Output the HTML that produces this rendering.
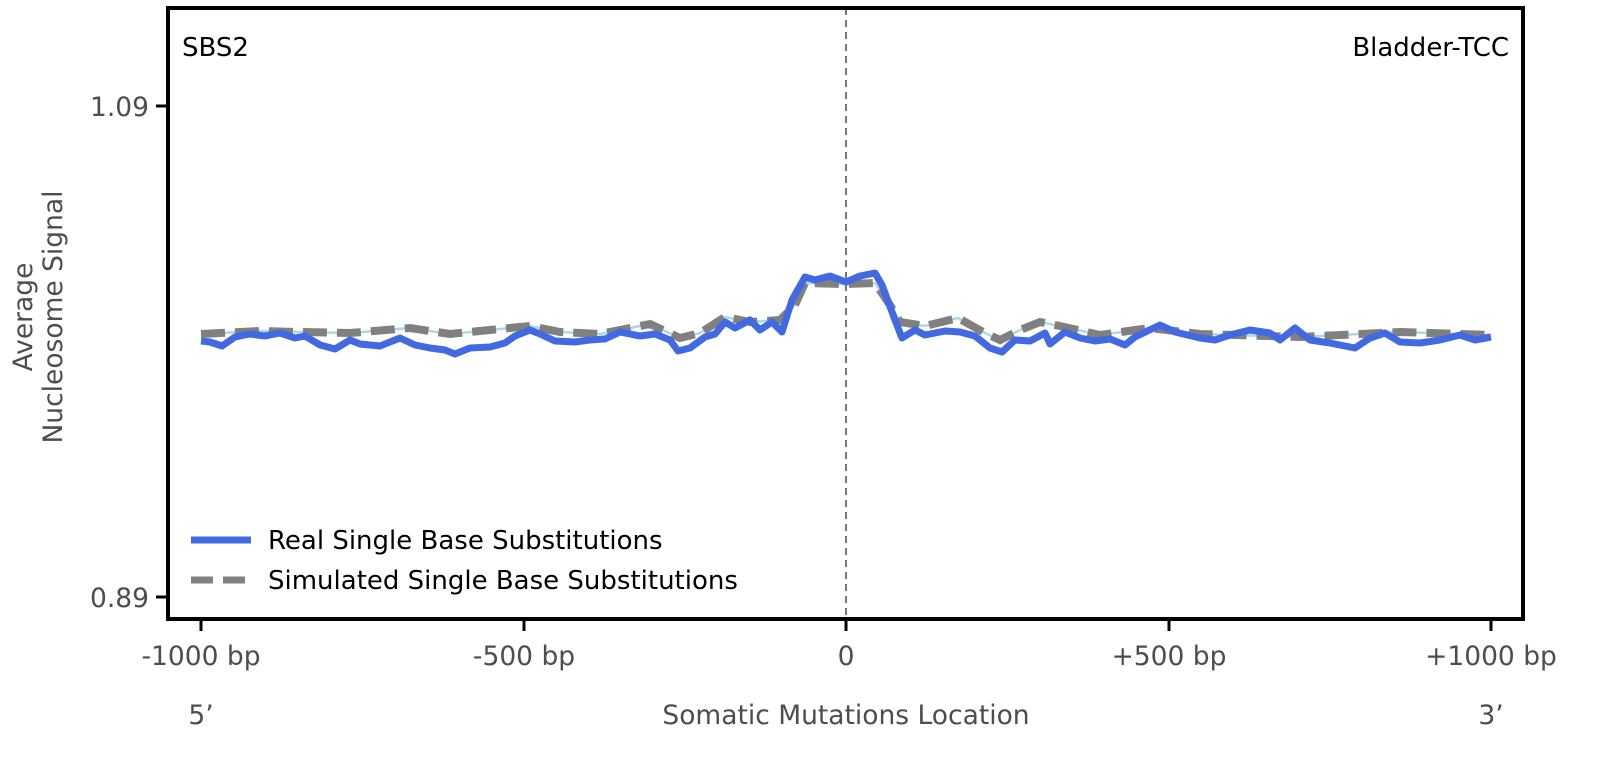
<!DOCTYPE html>
<html><head><meta charset="utf-8"><style>
body{margin:0;background:#fff;}
svg text{font-family:"DejaVu Sans","Liberation Sans",sans-serif;}
</style></head><body>
<svg width="1603" height="756" xmlns="http://www.w3.org/2000/svg">
<rect width="1603" height="756" fill="#fff"/>
<line x1="846" y1="8" x2="846" y2="619" stroke="#777" stroke-width="2" stroke-dasharray="7,5"/>
<polyline fill="none" stroke="#add8e6" stroke-width="2.5" points="201,334 260,331 300,332 350,333 410,328 450,334 530,326 560,332 600,334 650,324 680,338 700,333 725,317 750,322 780,320 795,305 805,283 846,284 875,283 890,305 900,322 925,326 958,318 985,333 1000,340 1020,330 1040,322 1060,326 1100,335 1150,328 1200,334 1300,337 1400,332 1491,335"/>
<polyline fill="none" stroke="#808080" stroke-width="8" stroke-dasharray="24,10" points="201,334 260,331 300,332 350,333 410,328 450,334 530,326 560,332 600,334 650,324 680,338 700,333 725,317 750,322 780,320 795,305 805,283 846,284 875,283 890,305 900,322 925,326 958,318 985,333 1000,340 1020,330 1040,322 1060,326 1100,335 1150,328 1200,334 1300,337 1400,332 1491,335"/>
<polyline fill="none" stroke="#4169e1" stroke-width="7" stroke-linejoin="round" points="201,341 210,342 222,346 235,337 250,334 265,336 280,333 295,338 305,336 320,345 335,349 350,340 360,344 380,346 400,338 415,345 430,348 445,350 455,354 470,348 490,347 505,343 515,336 530,330 540,334 555,341 575,342 590,340 605,339 620,332 640,336 655,334 670,340 678,351 690,348 705,337 715,334 725,322 735,328 750,320 760,330 772,322 782,332 792,300 805,277 815,280 830,276 846,282 860,276 875,273 882,285 895,320 902,338 915,330 925,335 945,331 960,332 975,336 990,348 1002,352 1015,340 1030,341 1045,333 1050,344 1065,332 1080,338 1095,341 1110,339 1125,345 1135,337 1160,325 1175,332 1200,338 1215,340 1230,335 1250,330 1270,333 1280,340 1295,328 1310,340 1330,343 1355,348 1370,338 1385,333 1400,342 1420,343 1440,340 1460,335 1475,340 1491,337"/>
<rect x="168" y="8" width="1355" height="611" fill="none" stroke="#000" stroke-width="4"/>
<g stroke="#000" stroke-width="3">
<line x1="156" y1="106" x2="168" y2="106"/><line x1="156" y1="597" x2="168" y2="597"/>
<line x1="201" y1="619" x2="201" y2="631"/><line x1="524" y1="619" x2="524" y2="631"/><line x1="846" y1="619" x2="846" y2="631"/><line x1="1169" y1="619" x2="1169" y2="631"/><line x1="1491" y1="619" x2="1491" y2="631"/>
</g>
<g fill="#4d4d4d" font-size="26.5">
<text x="149" y="116" text-anchor="end">1.09</text>
<text x="149" y="607" text-anchor="end">0.89</text>
<text x="201" y="665" text-anchor="middle">-1000 bp</text>
<text x="524" y="665" text-anchor="middle">-500 bp</text>
<text x="846" y="665" text-anchor="middle">0</text>
<text x="1169" y="665" text-anchor="middle">+500 bp</text>
<text x="1491" y="665" text-anchor="middle">+1000 bp</text>
<text x="201" y="724" text-anchor="middle">5’</text>
<text x="846" y="724" text-anchor="middle">Somatic Mutations Location</text>
<text x="1491" y="724" text-anchor="middle">3’</text>
<text transform="translate(32,317) rotate(-90)" text-anchor="middle">Average</text>
<text transform="translate(62,317) rotate(-90)" text-anchor="middle">Nucleosome Signal</text>
</g>
<text x="182" y="56" font-size="26" fill="#000">SBS2</text>
<text x="1509" y="56" font-size="26" fill="#000" text-anchor="end">Bladder-TCC</text>
<line x1="191" y1="540" x2="251" y2="540" stroke="#4169e1" stroke-width="7"/>
<line x1="191" y1="580" x2="251" y2="580" stroke="#808080" stroke-width="7" stroke-dasharray="22,10"/>
<text x="268" y="549" font-size="26" fill="#000">Real Single Base Substitutions</text>
<text x="268" y="589" font-size="26" fill="#000">Simulated Single Base Substitutions</text>
</svg>
</body></html>
